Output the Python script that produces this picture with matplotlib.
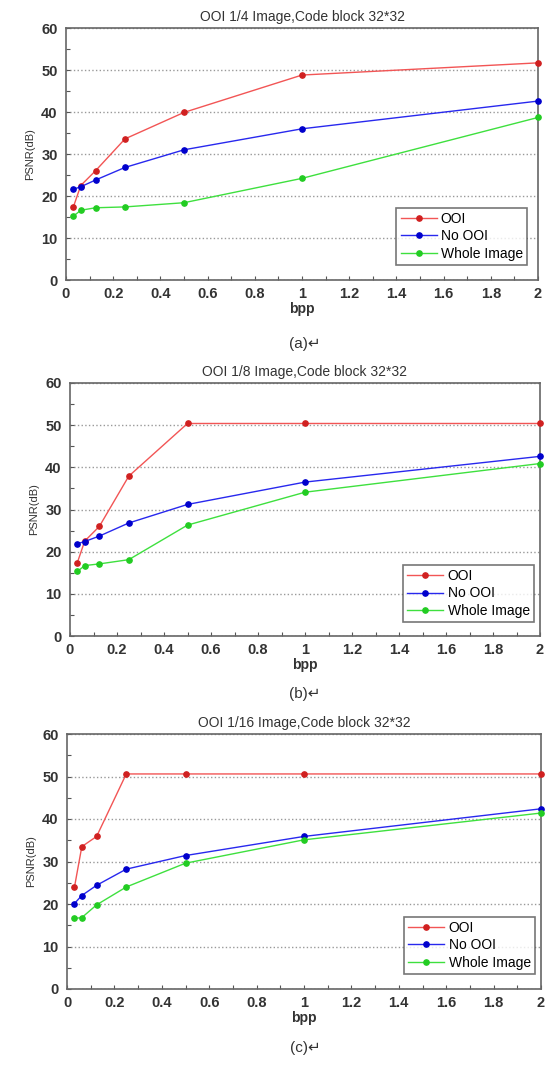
import matplotlib
matplotlib.use("Agg")
import matplotlib.pyplot as plt
from matplotlib.ticker import MultipleLocator

plt.rcParams['font.family'] = ['Liberation Sans', 'DejaVu Sans']

bpp = [0.03125, 0.0625, 0.125, 0.25, 0.5, 1, 2]

ooi_a = [17.4, 22.5, 26.0, 33.6, 39.9, 48.8, 51.7]
noooi_a = [21.6, 22.2, 23.8, 26.8, 31.0, 36.0, 42.6]
whole_a = [15.2, 16.6, 17.2, 17.4, 18.4, 24.2, 38.7]

ooi_b = [17.4, 22.5, 26.0, 37.9, 50.4, 50.4, 50.4]
noooi_b = [21.9, 22.4, 23.7, 26.8, 31.2, 36.5, 42.6]
whole_b = [15.3, 16.7, 17.1, 18.1, 26.3, 34.1, 40.9]

ooi_c = [23.9, 33.5, 35.9, 50.6, 50.6, 50.6, 50.6]
noooi_c = [20.1, 22.0, 24.4, 28.2, 31.4, 35.9, 42.4]
whole_c = [16.6, 16.8, 19.8, 24.0, 29.6, 35.1, 41.4]

titles = ["OOI 1/4 Image,Code block 32*32",
          "OOI 1/8 Image,Code block 32*32",
          "OOI 1/16 Image,Code block 32*32"]
captions = ["(a)\u21b5", "(b)\u21b5", "(c)\u21b5"]
series_labels = ["OOI", "No OOI", "Whole Image"]
xticks = [0, 0.2, 0.4, 0.6, 0.8, 1, 1.2, 1.4, 1.6, 1.8, 2]
xticklabels = ["0", "0.2", "0.4", "0.6", "0.8", "1", "1.2", "1.4", "1.6", "1.8", "2"]
yticks = [0, 10, 20, 30, 40, 50, 60]

data = [(ooi_a, noooi_a, whole_a), (ooi_b, noooi_b, whole_b), (ooi_c, noooi_c, whole_c)]
colors = ["#f25555", "#2828ee", "#3ee03e"]
mcolors = ["#d02020", "#0000cc", "#22cc22"]

W, H = 548, 1066
fig = plt.figure(figsize=(W / 100, H / 100), dpi=100)

# pixel boxes: left, right, top, bottom
boxes = [(66, 538, 28, 280), (70, 540, 383, 636), (67, 541, 734, 989)]
legend_anchor = [(0.977, 0.06), (0.987, 0.055), (0.987, 0.059)]
caption_y = [344, 694, 1048]

txtcol = "#333333"
for i, (l, r, t, b) in enumerate(boxes):
    ax = fig.add_axes([l / W, 1 - b / H, (r - l) / W, (b - t) / H])
    for s, lab, c, mc in zip(data[i], series_labels, colors, mcolors):
        ax.plot(bpp, s, '-', color=c, lw=1.0, marker='o', ms=3.8,
                mfc=mc, mec=mc, label=lab, clip_on=False, zorder=3)
    ax.set_xlim(0, 2)
    ax.set_ylim(0, 60)
    ax.set_xticks(xticks)
    ax.set_xticklabels(xticklabels)
    ax.set_yticks(yticks)
    ax.xaxis.set_minor_locator(MultipleLocator(0.1))
    ax.yaxis.set_minor_locator(MultipleLocator(5))
    ax.tick_params(which='both', direction='in', length=3, width=0.8,
                   color='#555555', top=False, right=False)
    ax.tick_params(which='major', labelsize=10.5, labelcolor=txtcol, pad=6)
    ax.tick_params(axis='x', which='major', pad=5)
    for lbl in ax.get_xticklabels() + ax.get_yticklabels():
        lbl.set_fontweight('bold')
    ax.grid(axis='y', which='major', linestyle=':', color='#999999', lw=1.0)
    ax.set_axisbelow(True)
    for sp in ax.spines.values():
        sp.set_color('#666666')
        sp.set_linewidth(1.2)
    ax.set_title(titles[i], fontsize=10, color=txtcol, pad=5)
    ax.set_ylabel("PSNR(dB)", fontsize=8, color=txtcol, labelpad=4)
    ax.set_xlabel("bpp", fontsize=10, color=txtcol, labelpad=1, fontweight='bold')
    leg = ax.legend(loc='lower right', bbox_to_anchor=legend_anchor[i],
                    fontsize=10, frameon=True, fancybox=False, edgecolor='#555555',
                    handlelength=2.6, borderpad=0.3, labelspacing=0.25,
                    handletextpad=0.3, borderaxespad=0)
    leg.get_frame().set_linewidth(1.2)
    fig.text(305 / W, 1 - caption_y[i] / H, captions[i], fontsize=11,
             color=txtcol, ha='center', va='center',
             family=['Liberation Sans', 'DejaVu Sans'])

fig.savefig("out.png", dpi=100)
